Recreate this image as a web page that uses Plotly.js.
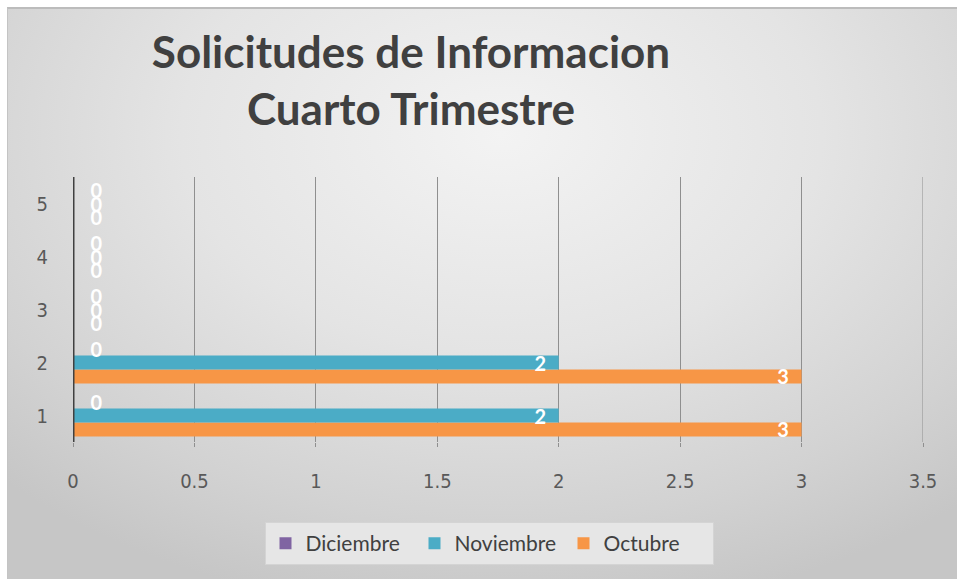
<!DOCTYPE html>
<html>
<head>
<meta charset="utf-8">
<script src="https://cdn.plot.ly/plotly-3.0.1.min.js"></script>
<style>
  html, body { margin: 0; padding: 0; background: #ffffff; }
  #frame {
    position: absolute; left: 7px; top: 7px; width: 950px; height: 572px;
    box-sizing: border-box;
    border-top: 2px solid #bcbcbc; border-left: 1px solid #c4c4c4;
    background: radial-gradient(ellipse 75% 85% at 52% 22%, #f3f3f3 0%, #e4e4e4 45%, #d2d2d2 80%, #c6c6c6 100%);
  }
  #chart { position: absolute; left: 0; top: 0; width: 957px; height: 579px; }
</style>
</head>
<body>
<div id="frame"></div>
<div id="chart"></div>
<script>
const categories = [1, 2, 3, 4, 5];
const octubre = [3, 3, 0, 0, 0];
const noviembre = [2, 2, 0, 0, 0];
const diciembre = [0, 0, 0, 0, 0];
const seriesNames = ['Octubre', 'Noviembre', 'Diciembre'];
const seriesColors = ['#F79646', '#4BACC6', '#8064A2'];
const seriesValues = [octubre, noviembre, diciembre];
const xTicks = [0, 0.5, 1, 1.5, 2, 2.5, 3, 3.5];

const labelFont = { family: 'Lato, "Open Sans", sans-serif', size: 20, color: '#ffffff', weight: 'bold' };

const traces = seriesValues.map((vals, i) => ({
  type: 'bar',
  orientation: 'h',
  name: seriesNames[i],
  y: categories,
  x: vals,
  marker: { color: seriesColors[i] },
  text: vals.map(v => v > 0 ? v + '&nbsp;&nbsp;' : '&nbsp;&nbsp;&nbsp;' + v),
  texttemplate: '%{text}',
  textposition: vals.map(v => v > 0 ? 'inside' : 'outside'),
  insidetextanchor: 'end',
  textangle: 0,
  constraintext: 'none',
  cliponaxis: false,
  textfont: labelFont,
  insidetextfont: labelFont,
  outsidetextfont: labelFont,
  hoverinfo: 'skip'
}));

const xMax = xTicks[xTicks.length - 1];

const layout = {
  width: 957,
  height: 579,
  paper_bgcolor: 'rgba(0,0,0,0)',
  plot_bgcolor: 'rgba(0,0,0,0)',
  margin: { l: 73, r: 34, t: 177, b: 137 },
  barmode: 'group',
  bargap: 0.21,
  bargroupgap: 0,
  showlegend: true,
  title: {
    text: 'Solicitudes de Informacion<br>Cuarto Trimestre',
    font: { family: 'Lato, "Open Sans", sans-serif', size: 44, color: '#404040', weight: 'bold' },
    xref: 'container', x: 411 / 957, xanchor: 'center',
    yref: 'container', y: 1 - 68 / 579, yanchor: 'top'
  },
  xaxis: {
    range: [0, xMax],
    tickvals: xTicks,
    ticktext: xTicks.map(String),
    showgrid: true,
    gridcolor: '#8f8f8f',
    gridwidth: 1,
    zeroline: false,
    showline: false,
    ticks: 'outside',
    ticklen: 4,
    tickcolor: '#8f8f8f',
    ticklabelstandoff: 17,
    tickfont: { family: '"Liberation Sans Narrow", "DejaVu Sans Condensed", sans-serif', size: 20, color: '#595959' },
    fixedrange: true
  },
  yaxis: {
    range: [0.5, 5.5],
    tickvals: categories,
    showgrid: false,
    zeroline: false,
    showline: false,
    ticks: '',
    ticklabelstandoff: 24,
    tickfont: { family: '"Liberation Sans Narrow", "DejaVu Sans Condensed", sans-serif', size: 20, color: '#595959' },
    fixedrange: true
  },
  shapes: [
    {
      type: 'line', xref: 'x', yref: 'paper', x0: xMax, x1: xMax, y0: 0, y1: 1,
      line: { color: '#8f8f8f', width: 1 }, layer: 'below'
    },
    {
      type: 'line', xref: 'x', yref: 'paper', x0: 0, x1: 0, y0: 0, y1: 1,
      line: { color: '#404040', width: 3 }, layer: 'above'
    }
  ],
  legend: {
    orientation: 'h',
    traceorder: 'reversed',
    xref: 'container', x: 489 / 957, xanchor: 'center',
    yref: 'container', y: 1 - 522 / 579, yanchor: 'top',
    bgcolor: '#e6e6e6',
    bordercolor: '#d4d4d4',
    borderwidth: 1,
    font: { family: 'Lato, "Open Sans", sans-serif', size: 21, color: '#404040' },
    itemwidth: 30,
    entrywidth: 104,
    entrywidthmode: 'pixels'
  }
};

Plotly.newPlot('chart', traces, layout, { displayModeBar: false, staticPlot: true });
</script>
</body>
</html>
